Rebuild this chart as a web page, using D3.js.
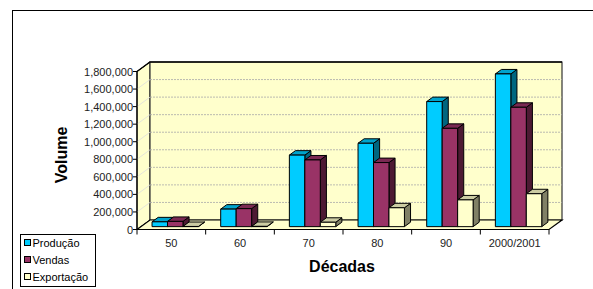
<!DOCTYPE html>
<html>
<head>
    <script src="https://d3js.org/d3.v7.min.js"></script>
    <title>Volume por Décadas</title>
    <style>
        body { margin: 0; background: #fff; }
        text { font-family: Arial, "Liberation Sans", sans-serif; }
    </style>
</head>
<body>
    <svg id="plot" height="289" width="593"></svg>
    <script>
        // data
        const decadas = ["50", "60", "70", "80", "90", "2000/2001"];
        const producao = [55000, 200000, 815000, 950000, 1425000, 1740000];
        const vendas = [60000, 205000, 760000, 730000, 1120000, 1360000];
        const exportacao = [2000, 3000, 50000, 215000, 305000, 375000];
        const seriesNames = ["Produção", "Vendas", "Exportação"];
        const yTicks = [0, 200000, 400000, 600000, 800000, 1000000, 1200000, 1400000, 1600000, 1800000];

        const colors = [
            {front: "#00ccff", top: "#00a3cc", side: "#006680"},
            {front: "#993366", top: "#7a2952", side: "#4d1a33"},
            {front: "#ffffcc", top: "#cccca3", side: "#808066"}
        ];

        const svg = d3.select('svg#plot');

        // 3d geometry (front plane + depth offset)
        const x0 = 137, x1 = 549;
        const depth = {dx: 13, dy: -9.5};
        const yScale = d3.scaleLinear().domain([0, 1800000]).range([229.5, 71.5]);
        const xScale = d3.scaleBand().domain(decadas).range([x0, x1]);
        const inner = d3.scaleBand().domain(d3.range(3)).range([0, xScale.bandwidth()])
                        .paddingInner(0).paddingOuter(0.72);

        // projected point: x, value, z in [0,1]
        const P = (x, v, z) => [x + z * depth.dx, yScale(v) + z * depth.dy];
        const poly = pts => pts.map(p => p.join(",")).join(" ");

        // outer border
        svg.append("rect")
           .attr("x", 12.5).attr("y", 10.5)
           .attr("width", 600).attr("height", 300)
           .style("fill", "none").style("stroke", "#000").style("stroke-width", 1);

        const g = svg.append('g');
        const vMax = 1800000;

        // walls and floor
        g.append("polygon")
         .attr("points", poly([P(x0, 0, 0), P(x0, 0, 1), P(x0, vMax, 1), P(x0, vMax, 0)]))
         .style("fill", "#ffffcc").style("stroke", "#000").style("stroke-width", 1);
        g.append("polygon")
         .attr("points", poly([P(x0, 0, 1), P(x1, 0, 1), P(x1, vMax, 1), P(x0, vMax, 1)]))
         .style("fill", "#ffffcc").style("stroke", "#333").style("stroke-width", 1.2);
        g.append("polygon")
         .attr("points", poly([P(x0, 0, 0), P(x1, 0, 0), P(x1, 0, 1), P(x0, 0, 1)]))
         .style("fill", "#ffffcc").style("stroke", "#000").style("stroke-width", 1.2);

        // gridlines
        yTicks.slice(1, -1).forEach(v => {
            const a = P(x0, v, 0), b = P(x0, v, 1), c = P(x1, v, 1);
            g.append("line")
             .attr("x1", a[0]).attr("y1", a[1]).attr("x2", b[0]).attr("y2", b[1])
             .style("stroke", "#ddd").style("stroke-width", 0.8);
            g.append("line")
             .attr("x1", b[0]).attr("y1", b[1]).attr("x2", c[0]).attr("y2", c[1])
             .style("stroke", "#aaa").style("stroke-width", 0.8)
             .style("stroke-dasharray", "2,1");
        });
        // redraw wall top edges
        g.append("polyline")
         .attr("points", poly([P(x0, vMax, 0), P(x0, vMax, 1), P(x1, vMax, 1)]))
         .style("fill", "none").style("stroke", "#000").style("stroke-width", 1.3);

        // bars
        const zf = 0.3, zb = 0.77;
        const allSeries = [producao, vendas, exportacao];
        decadas.forEach((d, i) => {
            allSeries.forEach((s, k) => {
                const v = s[i];
                const xa = xScale(d) + inner(k);
                const xb = xa + inner.bandwidth();
                const c = colors[k];
                const bar = g.append("g").style("stroke", "#000").style("stroke-width", 1)
                             .style("stroke-linejoin", "round");
                // side face
                bar.append("polygon")
                   .attr("points", poly([P(xb, 0, zf), P(xb, 0, zb), P(xb, v, zb), P(xb, v, zf)]))
                   .style("fill", c.side);
                // top face
                bar.append("polygon")
                   .attr("points", poly([P(xa, v, zf), P(xb, v, zf), P(xb, v, zb), P(xa, v, zb)]))
                   .style("fill", c.top);
                // front face
                bar.append("polygon")
                   .attr("points", poly([P(xa, 0, zf), P(xb, 0, zf), P(xb, v, zf), P(xa, v, zf)]))
                   .style("fill", c.front);
            });
        });

        // y axis
        g.append("line")
         .attr("x1", x0).attr("x2", x0).attr("y1", yScale(0)).attr("y2", yScale(vMax))
         .style("stroke", "#000").style("stroke-width", 1.2);
        const fmt = d3.format(",");
        yTicks.forEach(v => {
            g.append("line")
             .attr("x1", x0 - 4).attr("x2", x0).attr("y1", yScale(v)).attr("y2", yScale(v))
             .style("stroke", "#000");
            g.append("text")
             .attr("x", x0 - 4).attr("y", yScale(v) + 4)
             .attr("text-anchor", "end").attr("font-size", "11px").attr("fill", "#222")
             .text(fmt(v));
        });

        // x axis
        g.append("line")
         .attr("x1", x0).attr("x2", x1).attr("y1", yScale(0)).attr("y2", yScale(0))
         .style("stroke", "#000").style("stroke-width", 1.2);
        decadas.forEach(d => {
            const xt = xScale(d) + xScale.bandwidth();
            g.append("line")
             .attr("x1", xt).attr("x2", xt).attr("y1", yScale(0)).attr("y2", yScale(0) + 5)
             .style("stroke", "#000");
            g.append("text")
             .attr("x", xScale(d) + xScale.bandwidth() / 2).attr("y", 247)
             .attr("text-anchor", "middle").attr("font-size", "11px").attr("fill", "#222")
             .text(d);
        });
        g.append("line")
         .attr("x1", x0).attr("x2", x0).attr("y1", yScale(0)).attr("y2", yScale(0) + 5)
         .style("stroke", "#000");

        // axis titles
        svg.append("text")
           .attr("x", 342).attr("y", 271.5)
           .attr("text-anchor", "middle").attr("font-size", "16px").attr("font-weight", "bold")
           .text("Décadas");
        svg.append("text")
           .attr("transform", "translate(67,155) rotate(-90)")
           .attr("text-anchor", "middle").attr("font-size", "16px").attr("font-weight", "bold")
           .text("Volume");

        // legend
        const leg = svg.append("g");
        leg.append("rect")
           .attr("x", 20.5).attr("y", 234.5).attr("width", 75).attr("height", 52)
           .style("fill", "#fff").style("stroke", "#000");
        seriesNames.forEach((name, k) => {
            const ly = 243 + k * 17;
            leg.append("rect")
               .attr("x", 24.5).attr("y", ly - 3.5).attr("width", 6).attr("height", 6)
               .style("fill", colors[k].front).style("stroke", "#000");
            leg.append("text")
               .attr("x", 32.5).attr("y", ly + 4)
               .attr("font-size", "11px").attr("fill", "#000")
               .text(name);
        });
    </script>
</body>
</html>
